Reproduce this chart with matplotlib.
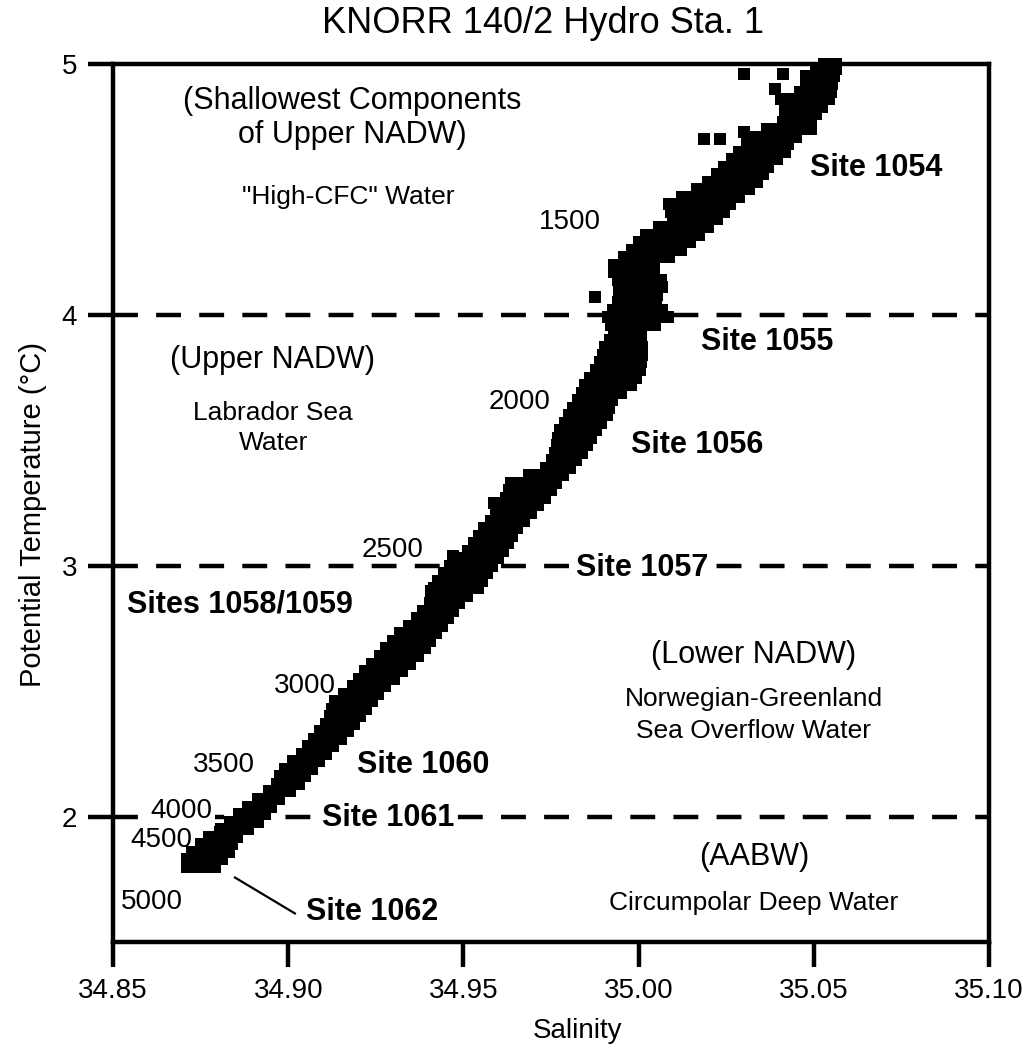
import matplotlib.pyplot as plt

plt.rcParams['font.family'] = ['Liberation Sans', 'DejaVu Sans']

# theta rows (deg C) with the salinities
deep_rows = [
    (1.80, [34.8710, 34.8735, 34.8760, 34.8790]),
    (1.83, [34.8710, 34.8735, 34.8760, 34.8785, 34.8810]),
    (1.86, [34.8725, 34.8750, 34.8780, 34.8805, 34.8830]),
    (1.89, [34.8750, 34.8780, 34.8810, 34.8840]),
    (1.92, [34.8775, 34.8805, 34.8835, 34.8855]),
    (1.95, [34.8805, 34.8835, 34.8860, 34.8885]),
    (1.98, [34.8835, 34.8862, 34.8890, 34.8915]),
]
lower_rows = [
    (2.01, [34.8860, 34.8885, 34.8910, 34.8935]),
    (2.04, [34.8885, 34.8908, 34.8930, 34.8950]),
    (2.07, [34.8913, 34.8940, 34.8960, 34.8974]),
    (2.10, [34.8944, 34.8970, 34.8990, 34.9005]),
    (2.13, [34.8968, 34.8990, 34.9010, 34.9031]),
    (2.16, [34.8977, 34.9000, 34.9025, 34.9049]),
    (2.19, [34.8990, 34.9015, 34.9040, 34.9067]),
    (2.22, [34.9013, 34.9037, 34.9060, 34.9087]),
    (2.25, [34.9038, 34.9062, 34.9085, 34.9108]),
    (2.28, [34.9056, 34.9080, 34.9105, 34.9129]),
    (2.31, [34.9074, 34.9100, 34.9126, 34.9152]),
    (2.34, [34.9090, 34.9117, 34.9144, 34.9171]),
    (2.37, [34.9107, 34.9134, 34.9160, 34.9188]),
    (2.40, [34.9118, 34.9147, 34.9176, 34.9205]),
    (2.43, [34.9124, 34.9148, 34.9173, 34.9198, 34.9222]),
    (2.46, [34.9133, 34.9160, 34.9187, 34.9213, 34.9240]),
    (2.49, [34.9160, 34.9185, 34.9210, 34.9233, 34.9257]),
    (2.52, [34.9186, 34.9216, 34.9246, 34.9276]),
    (2.55, [34.9202, 34.9227, 34.9252, 34.9277, 34.9301]),
    (2.58, [34.9219, 34.9246, 34.9273, 34.9300, 34.9326]),
    (2.61, [34.9239, 34.9266, 34.9293, 34.9320, 34.9348]),
    (2.64, [34.9261, 34.9288, 34.9315, 34.9343, 34.9370]),
    (2.67, [34.9280, 34.9307, 34.9334, 34.9361, 34.9389]),
    (2.70, [34.9298, 34.9325, 34.9352, 34.9379, 34.9406]),
    (2.73, [34.9319, 34.9345, 34.9371, 34.9397, 34.9423]),
    (2.76, [34.9344, 34.9368, 34.9392, 34.9415, 34.9439]),
    (2.79, [34.9368, 34.9397, 34.9426, 34.9455]),
    (2.82, [34.9386, 34.9414, 34.9442, 34.9471]),
    (2.85, [34.9404, 34.9431, 34.9458, 34.9486]),
    (2.88, [34.9411, 34.9436, 34.9461, 34.9486, 34.9511]),
    (2.91, [34.9415, 34.9443, 34.9476, 34.9509, 34.9542]),
    (2.94, [34.9427, 34.9459, 34.9490, 34.9522, 34.9554]),
    (2.97, [34.9444, 34.9475, 34.9506, 34.9537, 34.9568]),
]
upper_rows = [
    (3.00, [34.9462, 34.9492, 34.9522, 34.9551, 34.9581]),
    (3.03, [34.9487, 34.9515, 34.9542, 34.9570, 34.9598]),
    (3.06, [34.9513, 34.9540, 34.9567, 34.9594, 34.9614]),
    (3.09, [34.9529, 34.9556, 34.9583, 34.9610, 34.9627]),
    (3.12, [34.9544, 34.9571, 34.9598, 34.9620, 34.9640]),
    (3.15, [34.9559, 34.9586, 34.9613, 34.9634, 34.9654]),
    (3.18, [34.9578, 34.9605, 34.9632, 34.9652, 34.9673]),
    (3.21, [34.9594, 34.9622, 34.9650, 34.9671, 34.9692]),
    (3.24, [34.9609, 34.9637, 34.9665, 34.9693, 34.9714]),
    (3.27, [34.9622, 34.9650, 34.9678, 34.9706, 34.9734]),
    (3.30, [34.9629, 34.9658, 34.9687, 34.9716, 34.9749]),
    (3.33, [34.9636, 34.9665, 34.9694, 34.9723, 34.9745, 34.9764]),
    (3.36, [34.9687, 34.9715, 34.9743, 34.9765, 34.9785]),
    (3.39, [34.9737, 34.9760, 34.9782, 34.9804]),
    (3.42, [34.9752, 34.9775, 34.9798, 34.9821]),
    (3.45, [34.9760, 34.9785, 34.9811, 34.9837]),
    (3.48, [34.9766, 34.9788, 34.9810, 34.9832, 34.9852]),
    (3.51, [34.9770, 34.9794, 34.9818, 34.9842, 34.9864]),
    (3.54, [34.9777, 34.9802, 34.9827, 34.9852, 34.9878]),
    (3.57, [34.9789, 34.9815, 34.9841, 34.9867, 34.9894]),
    (3.60, [34.9801, 34.9828, 34.9855, 34.9882, 34.9909]),
    (3.63, [34.9814, 34.9840, 34.9866, 34.9892, 34.9916]),
    (3.66, [34.9827, 34.9851, 34.9875, 34.9900, 34.9924]),
    (3.69, [34.9837, 34.9865, 34.9893, 34.9922, 34.9951]),
    (3.72, [34.9847, 34.9874, 34.9901, 34.9928, 34.9955, 34.9979]),
    (3.75, [34.9862, 34.9889, 34.9916, 34.9943, 34.9970, 34.9993]),
    (3.78, [34.9879, 34.9904, 34.9929, 34.9954, 34.9979, 35.0003]),
    (3.81, [34.9891, 34.9915, 34.9939, 34.9963, 34.9986, 35.0008]),
    (3.84, [34.9897, 34.9920, 34.9943, 34.9966, 34.9988, 35.0009]),
    (3.87, [34.9905, 34.9927, 34.9949, 34.9971, 34.9991, 35.0010]),
    (3.90, [34.9918, 34.9940, 34.9963, 34.9986, 35.0008]),
    (3.93, [34.9930, 34.9955, 34.9980, 35.0007]),
    (3.96, [34.9922, 34.9947, 34.9972, 34.9997, 35.0022, 35.0047]),
    (3.99, [34.9914, 34.9940, 34.9966, 34.9992, 35.0018, 35.0045, 35.0064, 35.0083]),
]
shallow_rows = [
    (4.02, [34.9928, 34.9955, 34.9982, 35.0009, 35.0036, 35.0068]),
    (4.05, [34.9942, 34.9969, 34.9996, 35.0023, 35.0050]),
    (4.08, [34.9944, 34.9971, 34.9998, 35.0025, 35.0052]),
    (4.11, [34.9944, 34.9974, 35.0004, 35.0034, 35.0066]),
    (4.14, [34.9940, 34.9970, 35.0000, 35.0030, 35.0065]),
    (4.17, [34.9929, 34.9958, 34.9987, 35.0016, 35.0044]),
    (4.20, [34.9929, 34.9957, 34.9985, 35.0013, 35.0043]),
    (4.23, [34.9958, 34.9984, 35.0010, 35.0036, 35.0062, 35.0086]),
    (4.26, [34.9982, 35.0010, 35.0038, 35.0066, 35.0094, 35.0121]),
    (4.29, [35.0002, 35.0031, 35.0060, 35.0089, 35.0118, 35.0146]),
    (4.32, [35.0020, 35.0050, 35.0080, 35.0110, 35.0140, 35.0171]),
    (4.35, [35.0059, 35.0087, 35.0115, 35.0143, 35.0171, 35.0199]),
    (4.38, [35.0098, 35.0124, 35.0150, 35.0176, 35.0202, 35.0225]),
    (4.41, [35.0093, 35.0123, 35.0153, 35.0183, 35.0213, 35.0243]),
    (4.44, [35.0088, 35.0117, 35.0146, 35.0175, 35.0204, 35.0233, 35.0261]),
    (4.47, [35.0123, 35.0150, 35.0177, 35.0204, 35.0231, 35.0258, 35.0287]),
    (4.50, [35.0166, 35.0196, 35.0226, 35.0256, 35.0286, 35.0316]),
    (4.53, [35.0198, 35.0226, 35.0254, 35.0282, 35.0310, 35.0338]),
    (4.56, [35.0224, 35.0250, 35.0276, 35.0302, 35.0328, 35.0354]),
    (4.59, [35.0244, 35.0269, 35.0294, 35.0319, 35.0344, 35.0368]),
    (4.62, [35.0266, 35.0292, 35.0318, 35.0344, 35.0370, 35.0396]),
    (4.65, [35.0287, 35.0313, 35.0339, 35.0365, 35.0391, 35.0418]),
    (4.68, [35.0309, 35.0338, 35.0367, 35.0396, 35.0425]),
    (4.71, [35.0329, 35.0359, 35.0389, 35.0419, 35.0450]),
    (4.74, [35.0367, 35.0398, 35.0429, 35.0460, 35.0492]),
    (4.77, [35.0412, 35.0439, 35.0466, 35.0492]),
    (4.80, [35.0417, 35.0447, 35.0477, 35.0507]),
    (4.83, [35.0417, 35.0444, 35.0471, 35.0498, 35.0524]),
    (4.86, [35.0406, 35.0434, 35.0462, 35.0490, 35.0517, 35.0544]),
    (4.89, [35.0460, 35.0490, 35.0520, 35.0549]),
    (4.92, [35.0478, 35.0503, 35.0528, 35.0552]),
    (4.95, [35.0478, 35.0505, 35.0531, 35.0558]),
    (4.98, [35.0505, 35.0535, 35.0564]),
    (5.00, [35.0530, 35.0564]),
]

# stray points off the main band
stray_salinity = [34.9408, 34.9470, 34.9587, 34.9876, 35.0187, 35.0232,
                  35.0301, 35.0301, 35.0389, 35.0412]
stray_theta = [2.90, 3.04, 3.25, 4.07, 4.70, 4.70, 4.73, 4.96, 4.90, 4.96]

boundaries = [2, 3, 4]

depth_labels = ['1500', '2000', '2500', '3000', '3500', '4000', '4500', '5000']
depth_sal = [34.9805, 34.9659, 34.9299, 34.9048, 34.8817, 34.8694, 34.8637, 34.8611]
depth_theta = [4.371, 3.653, 3.064, 2.522, 2.207, 2.024, 1.908, 1.661]

site_labels = ['Site 1054', 'Site 1055', 'Site 1056', 'Site 1057',
               'Sites 1058/1059', 'Site 1060', 'Site 1061', 'Site 1062']
site_sal = [35.0678, 35.0366, 35.0167, 35.001, 34.8862, 34.9385, 34.9285, 34.9239]
site_theta = [4.586, 3.892, 3.482, 2.992, 2.845, 2.207, 1.996, 1.618]

sal, theta = [], []
for rows in (deep_rows, lower_rows, upper_rows, shallow_rows):
    for t, ss in rows:
        for s in ss:
            sal.append(s)
            theta.append(t)
sal += stray_salinity
theta += stray_theta

fig = plt.figure(figsize=(10.34, 10.57), dpi=100)
ax = fig.add_axes([0.1093, 0.1088, 0.8472, 0.8307])

for b in boundaries:
    ax.axhline(b, color='black', lw=3.2, linestyle=(0, (5.6, 4.1)), zorder=1)

ax.scatter(sal, theta, s=81, marker='s', color='black', linewidths=0,
           zorder=3, clip_on=False)

white = dict(facecolor='white', edgecolor='none', pad=2)

for lab, s, t in zip(depth_labels, depth_sal, depth_theta):
    box = white if lab == '4000' else None
    ax.text(s, t, lab, fontsize=20, ha='center', va='center', bbox=box, zorder=4)

for lab, s, t in zip(site_labels, site_sal, site_theta):
    box = white if lab in ('Site 1057', 'Site 1061') else None
    ax.text(s, t, lab, fontsize=22, fontweight='bold', ha='center', va='center',
            bbox=box, zorder=4)

ax.plot([34.8848, 34.9019], [1.757, 1.614], color='black', lw=1.6)

ax.text(34.9182, 4.785, '(Shallowest Components\nof Upper NADW)', fontsize=22,
        ha='center', va='center', linespacing=1.2)
ax.text(34.9171, 4.470, '"High-CFC" Water', fontsize=19, ha='center', va='center')
ax.text(34.8954, 3.821, '(Upper NADW)', fontsize=22, ha='center', va='center')
ax.text(34.8957, 3.550, 'Labrador Sea\nWater', fontsize=19, ha='center',
        va='center', linespacing=1.3)
ax.text(35.0329, 2.645, '(Lower NADW)', fontsize=22, ha='center', va='center')
ax.text(35.0329, 2.406, 'Norwegian-Greenland\nSea Overflow Water', fontsize=19,
        ha='center', va='center', linespacing=1.4)
ax.text(35.0329, 1.837, '(AABW)', fontsize=22, ha='center', va='center')
ax.text(35.0329, 1.657, 'Circumpolar Deep Water', fontsize=19, ha='center', va='center')

ax.set_xlim(34.85, 35.10)
ax.set_ylim(1.5, 5)
ax.set_xticks([34.85, 34.90, 34.95, 35.00, 35.05, 35.10])
ax.set_xticklabels(['34.85', '34.90', '34.95', '35.00', '35.05', '35.10'])
ax.set_yticks([2, 3, 4, 5])
ax.tick_params(direction='out', length=18, width=3.2, labelsize=20, pad=8)
for sp in ax.spines.values():
    sp.set_linewidth(3.2)

fig.text(0.525, 0.9688, 'KNORR 140/2 Hydro Sta. 1', fontsize=26,
         ha='center', va='baseline')
fig.text(0.559, 0.0246, 'Salinity', fontsize=20, ha='center', va='center')
fig.text(0.0319, 0.5137, 'Potential Temperature (°C)', fontsize=21,
         rotation=90, ha='center', va='center')

fig.savefig('out.png', dpi=100)
